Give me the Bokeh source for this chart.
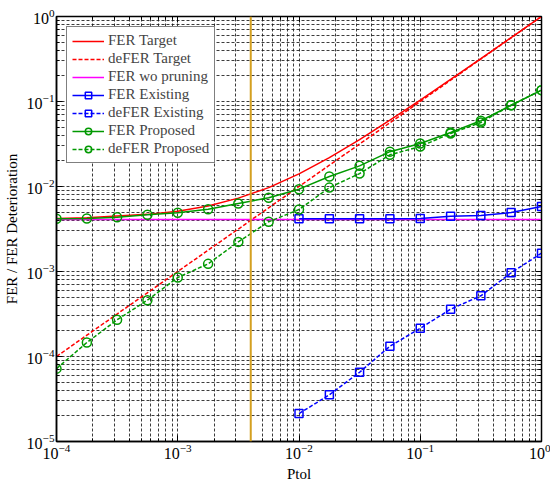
from bokeh.plotting import figure
from bokeh.models import Range1d, FixedTicker, LogAxis, Legend, LegendItem, Span
from bokeh.embed import file_html
from bokeh.resources import INLINE

# ---- data ----
ptol = [1e-4, 1.78e-4, 3.16e-4, 5.62e-4, 1e-3, 1.78e-3, 3.16e-3, 5.62e-3,
        1e-2, 1.78e-2, 3.16e-2, 5.62e-2, 1e-1, 1.78e-1, 3.16e-1, 5.62e-1, 1.0]
fer_target = [0.0042, 0.0043, 0.0045, 0.0047, 0.0051, 0.0059, 0.0073, 0.0097,
              0.0141, 0.0219, 0.0357, 0.0603, 0.104, 0.182, 0.320, 0.566, 1.0]
defer_target = [1e-4, 1.78e-4, 3.16e-4, 5.62e-4, 1e-3, 1.78e-3, 3.16e-3, 5.62e-3,
                1e-2, 1.78e-2, 3.16e-2, 5.62e-2, 1e-1, 1.78e-1, 3.16e-1, 5.62e-1, 1.0]
wo_x = [1e-4, 1.0]
fer_wo = [0.0041, 0.0041]
existing_x = [1e-2, 1.78e-2, 3.16e-2, 5.62e-2, 1e-1, 1.78e-1, 3.16e-1, 5.62e-1, 1.0]
fer_existing = [0.00417, 0.00417, 0.00417, 0.00417, 0.0042, 0.00447, 0.00457, 0.00494, 0.00582]
defer_existing = [2.13e-5, 3.54e-5, 6.53e-5, 1.32e-4, 2.15e-4, 3.6e-4, 5.18e-4, 9.66e-4, 1.64e-3]
fer_proposed = [4.17e-3, 4.2e-3, 4.35e-3, 4.65e-3, 4.9e-3, 5.4e-3, 6.3e-3, 7.36e-3,
                9.3e-3, 1.31e-2, 1.75e-2, 2.57e-2, 3.2e-2, 0.0431, 0.0593, 0.0904, 0.136]
defer_proposed = [7.2e-5, 1.46e-4, 2.7e-4, 4.6e-4, 8.5e-4, 1.23e-3, 2.23e-3, 3.85e-3,
                  5.36e-3, 9.7e-3, 1.42e-2, 2.36e-2, 2.95e-2, 0.0421, 0.0566, 0.0904, 0.136]
ptol_marker = 0.004

x_major = [1e-4, 1e-3, 1e-2, 1e-1, 1.0]
y_major = [1e-5, 1e-4, 1e-3, 1e-2, 1e-1, 1.0]
mant = [2, 3, 4, 5, 6, 7, 8, 9]
x_minor = [m * d for d in x_major[:-1] for m in mant]
y_minor = [m * d for d in y_major[:-1] for m in mant]

FONT = "Liberation Serif"
RED, MAG, BLUE, GREEN, GOLD = "#FF0000", "#FF00FF", "#0000FF", "#009900", "#D4A020"

p = figure(x_axis_type="log", y_axis_type="log",
           x_range=Range1d(1e-4, 1.0), y_range=Range1d(1e-5, 1.0),
           frame_width=485, frame_height=425,
           min_border_left=48, min_border_right=9, min_border_top=16, min_border_bottom=36,
           output_backend="svg", toolbar_location=None,
           background_fill_color="white", border_fill_color="white")
p.outline_line_color = "black"
p.outline_line_width = 1.5

xt = FixedTicker(ticks=x_major, minor_ticks=x_minor)
yt = FixedTicker(ticks=y_major, minor_ticks=y_minor)
p.xaxis.ticker = xt
p.yaxis.ticker = yt

for ax in (p.xaxis, p.yaxis):
    ax.major_tick_in = 6
    ax.major_tick_out = 0
    ax.minor_tick_in = 3
    ax.minor_tick_out = 0
    ax.axis_line_color = "black"
    ax.axis_line_width = 1.5
    ax.major_label_text_font = FONT
    ax.major_label_text_font_size = "16px"
    ax.major_label_text_color = "black"
    ax.axis_label_text_font = FONT
    ax.axis_label_text_font_size = "15px"
    ax.axis_label_text_font_style = "normal"
    ax.axis_label_text_color = "black"
    ax.major_label_standoff = 2
    ax.axis_label_standoff = 4

p.xaxis.axis_label = "Ptol"
p.yaxis.axis_label = "FER / FER Deterioration"

# inward tick marks on top and right (box style), labels invisible
top_ax = LogAxis(ticker=xt, major_tick_in=6, major_tick_out=0, minor_tick_in=3, minor_tick_out=0,
                 major_label_text_font_size="1px", major_label_text_alpha=0.0,
                 major_label_standoff=0, axis_line_color="black")
right_ax = LogAxis(ticker=yt, major_tick_in=6, major_tick_out=0, minor_tick_in=3, minor_tick_out=0,
                   major_label_text_font_size="1px", major_label_text_alpha=0.0,
                   major_label_standoff=0, axis_line_color="black")
p.add_layout(top_ax, "above")
p.add_layout(right_ax, "right")

for g in (p.xgrid, p.ygrid):
    g.grid_line_color = "#1a1a1a"
    g.grid_line_dash = "3 2"
    g.grid_line_alpha = 0.85
    g.minor_grid_line_color = "#1a1a1a"
    g.minor_grid_line_dash = "3 2"
    g.minor_grid_line_alpha = 0.85

LW = 1.5
r1 = p.line(ptol, fer_target, color=RED, line_width=LW)
r2 = p.line(ptol, defer_target, color=RED, line_width=LW, line_dash="4 2")
r3 = p.line(wo_x, fer_wo, color=MAG, line_width=LW)
r4l = p.line(existing_x, fer_existing, color=BLUE, line_width=LW)
r4m = p.scatter(existing_x, fer_existing, marker="square", size=8, fill_color=None,
                line_color=BLUE, line_width=LW)
r5l = p.line(existing_x, defer_existing, color=BLUE, line_width=LW, line_dash="4 2")
r5m = p.scatter(existing_x, defer_existing, marker="square", size=8, fill_color=None,
                line_color=BLUE, line_width=LW)
r6l = p.line(ptol, fer_proposed, color=GREEN, line_width=LW)
r6m = p.scatter(ptol, fer_proposed, marker="circle", size=9, fill_color=None,
                line_color=GREEN, line_width=LW)
r7l = p.line(ptol, defer_proposed, color=GREEN, line_width=LW, line_dash="4 2")
r7m = p.scatter(ptol, defer_proposed, marker="circle", size=9, fill_color=None,
                line_color=GREEN, line_width=LW)

p.add_layout(Span(location=ptol_marker, dimension="height", line_color=GOLD, line_width=2))

legend = Legend(items=[
    LegendItem(label="FER Target", renderers=[r1]),
    LegendItem(label="deFER Target", renderers=[r2]),
    LegendItem(label="FER wo pruning", renderers=[r3]),
    LegendItem(label="FER Existing", renderers=[r4l, r4m]),
    LegendItem(label="deFER Existing", renderers=[r5l, r5m]),
    LegendItem(label="FER Proposed", renderers=[r6l, r6m]),
    LegendItem(label="deFER Proposed", renderers=[r7l, r7m]),
], location="top_left")
legend.margin = 10
legend.padding = 5
legend.spacing = 1
legend.label_height = 16
legend.glyph_height = 16
legend.glyph_width = 32
legend.label_standoff = 4
legend.label_text_font = FONT
legend.label_text_font_size = "15px"
legend.border_line_color = "black"
legend.border_line_width = 1.5
legend.background_fill_color = "white"
legend.background_fill_alpha = 1.0
p.add_layout(legend)

open("out.html", "w").write(file_html(p, INLINE))
